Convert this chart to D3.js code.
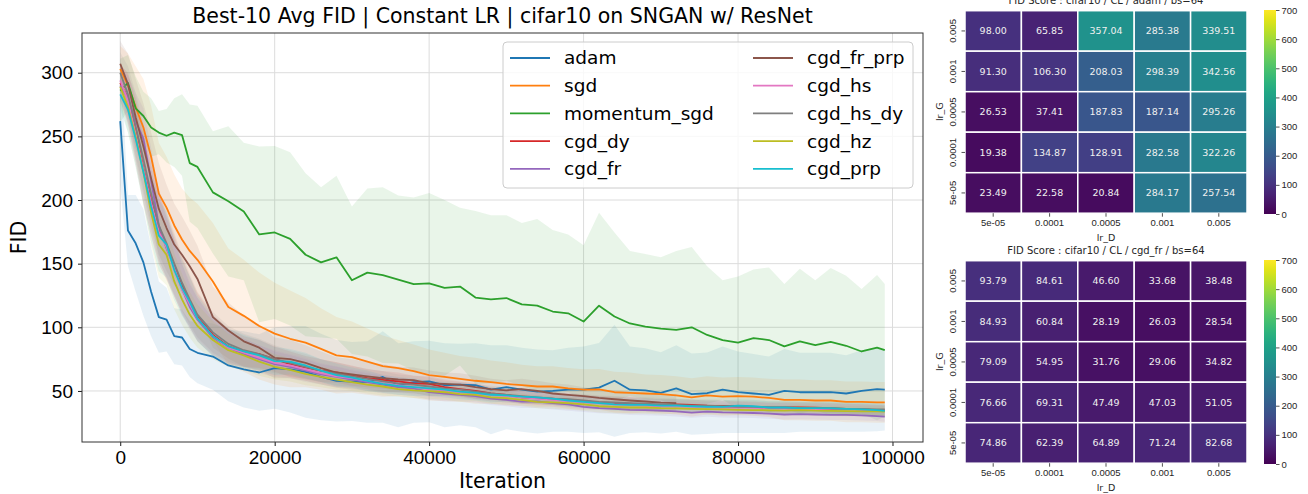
<!DOCTYPE html>
<html>
<head>
<meta charset="utf-8">
<script src="https://cdn.jsdelivr.net/npm/d3@7"></script>
<style>
  body { margin: 0; background: #fff; }
  svg { font-family: "DejaVu Sans", sans-serif; }
</style>
</head>
<body>
<svg id="chart" width="1308" height="494"></svg>
<script>
// ---- data ----
const iterations = [0, 1000, 2000, 3000, 4000, 5000, 6000, 7000, 8000, 9000, 10000,
  12000, 14000, 16000, 18000, 20000, 22000, 24000, 26000, 28000, 30000,
  32000, 34000, 36000, 38000, 40000, 42000, 44000, 46000, 48000, 50000,
  52000, 54000, 56000, 58000, 60000, 62000, 64000, 66000, 68000, 70000,
  72000, 74000, 76000, 78000, 80000, 82000, 84000, 86000, 88000, 90000,
  92000, 94000, 96000, 98000, 99000];

const adamMean = [262, 176, 166, 151, 128, 108, 106, 93, 92, 83, 80,
  77, 70, 67, 64.5, 68, 67, 65, 61, 58, 57.4,
  57, 61, 54.5, 57, 57.5, 54.5, 55, 54.5, 51, 53,
  51, 49.5, 50, 51, 51, 52.6, 58, 51, 50.5, 48.5,
  52, 47.5, 48.2, 51, 49, 48, 47, 50, 49, 49,
  49, 48, 50, 51.4, 51];
const adamStd = [50, 28, 38, 42, 35, 28, 25, 22, 22, 22, 24,
  26, 28, 30, 30, 32, 34, 36, 34, 32, 31,
  32, 36, 33, 32, 32, 33, 32, 33, 35, 33,
  33, 33, 32, 33, 34, 35, 44, 34, 33, 32,
  34, 32, 32, 34, 32, 31, 30, 33, 31, 31,
  31, 30, 32, 33, 32];

const sgdMean = [303, 290, 273, 257, 234, 205, 194, 180, 169, 160, 153,
  136, 116, 109, 101, 95, 91, 88, 83, 78, 76.5,
  73, 69.5, 68, 65.5, 62.5, 61, 59.5, 58, 57, 55.5,
  54.5, 53.5, 53.5, 52, 51, 51.3, 49, 48.5, 48, 47.5,
  46.5, 45, 46.5, 45.5, 46, 45.5, 44.5, 43, 43, 42.5,
  42.5, 41.5, 41.5, 41, 41];
const sgdStd = [18, 25, 32, 38, 40, 40, 40, 40, 40, 42, 44,
  46, 46, 44, 42, 40, 38, 35, 32, 30, 28,
  26, 24, 22, 21, 20, 19, 18, 18, 17, 17,
  16, 16, 16, 16, 16, 16, 16, 16, 15, 15,
  15, 15, 15, 15, 15, 15, 15, 16, 16, 16,
  16, 16, 16, 16, 16];

const momentumMean = [286, 292, 272, 266, 257, 253, 250.5, 253, 251, 229, 226,
  206, 199, 191, 173, 174.5, 169.5, 157, 151, 155, 137,
  143, 141, 137.5, 134, 134.5, 131, 132, 123.4, 122, 123,
  118, 117, 112.4, 111, 104.5, 117, 108.5, 103, 100.6, 99,
  98, 100, 94, 90, 88, 91.5, 90, 85, 89, 86,
  88.5, 85.5, 81, 84, 82];
const momentumStd = [25, 22, 25, 19, 23, 17, 21, 27, 32, 46, 48,
  48, 59, 54, 69, 68, 68, 64, 59, 64, 58,
  66, 69, 66, 68, 71, 69, 62, 68, 66, 65,
  64, 68, 64, 62, 60, 73, 66, 57, 57, 56,
  62, 63, 54, 47, 52, 54, 57, 49, 57, 51,
  58, 55, 49, 57, 52];

const cgdDyMean = [292, 280, 255, 225, 200, 178, 163, 148, 133, 120, 108,
  94, 85, 81, 79, 75, 71, 68.5, 66, 64.5, 62,
  60, 58.7, 57.5, 56, 55.5, 53, 51.5, 50, 48, 46.9,
  45, 44.3, 44, 43, 42, 41, 40.5, 40, 39, 38.5,
  39.5, 39, 38.5, 38.3, 38, 37.5, 37, 37, 37, 36.8,
  36.5, 36, 35.5, 35, 34.6];
const cgdDyStd = [14, 20, 25, 28, 28, 28, 26, 24, 22, 20, 19,
  16, 14, 12, 11, 10, 10, 9, 9, 8, 8,
  7, 7, 7, 6, 6, 6, 6, 6, 5, 5,
  5, 5, 5, 5, 5, 5, 5, 5, 5, 5,
  4, 4, 4, 4, 4, 4, 4, 4, 4, 4,
  4, 4, 4, 4, 4];

const cgdFrMean = [290, 280, 262, 248, 215, 180, 162, 147, 130, 116, 106,
  92, 84, 79, 75, 71, 69, 66, 63, 61, 59,
  57, 55, 53, 52, 49, 48, 47, 46, 44, 43,
  41.7, 41.7, 40.5, 39.5, 37.5, 36.5, 36, 35.2, 35, 34.6,
  34, 33, 33.8, 33.2, 33, 32.7, 32.2, 31.5, 31.8, 31.5,
  31.2, 31.2, 30.8, 30.3, 29.9];
const cgdFrStd = [12, 18, 22, 24, 26, 26, 24, 22, 20, 18, 17,
  15, 13, 12, 11, 10, 9, 9, 8, 8, 7,
  7, 7, 6, 6, 6, 6, 5, 5, 5, 5,
  5, 5, 5, 5, 4, 4, 4, 4, 4, 4,
  4, 4, 4, 4, 4, 4, 4, 4, 4, 4,
  4, 4, 4, 4, 4];

const cgdFrPrpMean = [307, 291, 265, 242, 217, 193, 178, 165, 157, 148, 138,
  108, 97.5, 89, 84, 76, 75, 72, 68, 64.5, 63,
  61.5, 60, 59, 58.5, 56, 55.5, 55, 53, 51.5, 50.5,
  51.5, 50, 48, 47, 46, 44.5, 43.5, 42.5, 41.7, 40.8,
  40.5, null, null, null, null, null, null, null, null, null,
  null, null, null, null, null];
const cgdFrPrpStd = [18, 24, 30, 34, 36, 36, 34, 32, 30, 28, 26,
  24, 22, 20, 18, 16, 15, 14, 13, 12, 12,
  11, 11, 10, 10, 10, 9, 9, 9, 8, 8,
  8, 8, 8, 8, 7, 7, 7, 7, 7, 7,
  7, null, null, null, null, null, null, null, null, null,
  null, null, null, null, null];

const cgdHsMean = [294, 278, 252, 224, 198, 175, 163, 146, 130, 118, 107,
  93, 84, 80, 76, 72, 70, 67, 64, 61.5, 60,
  58, 56, 54.5, 53, 51.5, 50.5, 49, 48, 47, 46,
  45, 44, 43, 42, 41, 40.5, 39.5, 39, 38.5, 38,
  38, 37.5, 37, 37, 37.2, 36.8, 36.5, 36.2, 36, 36,
  35.7, 35.5, 35.3, 35, 35];
const cgdHsStd = [14, 20, 24, 26, 26, 26, 24, 22, 20, 18, 16,
  14, 12, 11, 10, 10, 9, 9, 8, 8, 7,
  7, 7, 6, 6, 6, 6, 5, 5, 5, 5,
  5, 5, 5, 5, 5, 5, 4, 4, 4, 4,
  4, 4, 4, 4, 4, 4, 4, 4, 4, 4,
  4, 4, 4, 4, 4];

const cgdHsDyMean = [300, 283, 258, 232, 205, 180, 166, 150, 135, 122, 110,
  96, 87, 82, 79, 75, 72, 69, 66, 63.5, 61.5,
  59.5, 57.5, 56, 55, 53.5, 52, 51, 49.5, 48, 47,
  46, 45, 44, 43.5, 42.5, 41.5, 41, 40.5, 40, 39.5,
  39, 38.5, 38.5, 38, 37.5, 37.5, 37, 37, 36.7, 36.5,
  36.2, 36, 36, 35.5, 35.5];
const cgdHsDyStd = [16, 22, 26, 28, 28, 28, 26, 24, 22, 20, 18,
  16, 14, 13, 12, 11, 10, 10, 9, 9, 8,
  8, 8, 7, 7, 7, 6, 6, 6, 6, 6,
  6, 5, 5, 5, 5, 5, 5, 5, 5, 5,
  5, 5, 5, 5, 5, 5, 5, 5, 5, 5,
  5, 5, 5, 5, 5];

const cgdHzMean = [289, 273, 250, 222, 190, 165, 157, 136, 122, 110, 101,
  90, 82, 78, 73, 69, 66.5, 63.5, 61, 59, 57,
  55, 53.5, 51.5, 50.5, 49.8, 49, 47.5, 47, 45, 44.3,
  43, 41.5, 41, 40.5, 39.5, 38, 37.5, 37, 37, 36.5,
  36.3, 36, 35.7, 35.5, 35.2, 35, 34.8, 34.6, 35, 34.5,
  34.3, 34.2, 34, 34, 33.8];
const cgdHzStd = [14, 20, 24, 26, 26, 26, 24, 22, 20, 18, 17,
  15, 13, 12, 11, 10, 9, 9, 8, 8, 7,
  7, 7, 6, 6, 6, 6, 6, 5, 5, 5,
  5, 5, 5, 5, 5, 5, 5, 5, 5, 5,
  4, 4, 4, 4, 4, 4, 4, 4, 4, 4,
  4, 4, 4, 4, 4];

const cgdPrpMean = [283, 271, 248, 222, 195, 172, 165, 145, 131, 120, 107,
  93, 85, 81, 78, 73.5, 73, 70, 66, 62.5, 60.5,
  58, 55.5, 54, 53, 52, 51, 49.5, 48.5, 47, 46.5,
  45.5, 45, 44, 42.5, 41.5, 40.5, 39.5, 39, 39, 38.5,
  38.5, 38, 37.5, 37.5, 38.5, 38, 37, 37, 36.5, 36.5,
  36.5, 36, 35.5, 35, 34.3];
const cgdPrpStd = [12, 18, 22, 26, 28, 28, 26, 24, 22, 20, 18,
  16, 14, 13, 12, 11, 10, 10, 9, 9, 8,
  8, 7, 7, 7, 6, 6, 6, 6, 6, 5,
  5, 5, 5, 5, 5, 5, 5, 5, 5, 5,
  5, 5, 5, 5, 5, 5, 5, 5, 5, 5,
  5, 5, 5, 5, 5];

const methodNames = ["adam", "sgd", "momentum_sgd", "cgd_dy", "cgd_fr",
  "cgd_fr_prp", "cgd_hs", "cgd_hs_dy", "cgd_hz", "cgd_prp"];
const xTicks = [0, 20000, 40000, 60000, 80000, 100000];
const yTicks = [50, 100, 150, 200, 250, 300];

// heatmaps
const lrDLabels = ["5e-05", "0.0001", "0.0005", "0.001", "0.005"];
const lrGLabels = ["0.005", "0.001", "0.0005", "0.0001", "5e-05"];
const adamFid = [
  [98.00, 65.85, 357.04, 285.38, 339.51],
  [91.30, 106.30, 208.03, 298.39, 342.56],
  [26.53, 37.41, 187.83, 187.14, 295.26],
  [19.38, 134.87, 128.91, 282.58, 322.26],
  [23.49, 22.58, 20.84, 284.17, 257.54]];
const cgdFrFid = [
  [93.79, 84.61, 46.60, 33.68, 38.48],
  [84.93, 60.84, 28.19, 26.03, 28.54],
  [79.09, 54.95, 31.76, 29.06, 34.82],
  [76.66, 69.31, 47.49, 47.03, 51.05],
  [74.86, 62.39, 64.89, 71.24, 82.68]];
const cbarTicks = [0, 100, 200, 300, 400, 500, 600, 700];

// ---- main line chart ----
const tab10 = d3.schemeCategory10;
const series = [
  [adamMean, adamStd], [sgdMean, sgdStd], [momentumMean, momentumStd],
  [cgdDyMean, cgdDyStd], [cgdFrMean, cgdFrStd], [cgdFrPrpMean, cgdFrPrpStd],
  [cgdHsMean, cgdHsStd], [cgdHsDyMean, cgdHsDyStd], [cgdHzMean, cgdHzStd],
  [cgdPrpMean, cgdPrpStd]
].map(([m, s], i) => ({
  name: methodNames[i],
  color: tab10[i],
  pts: iterations.map((it, j) => ({it: it, m: m[j], s: s[j]}))
}));

const svg = d3.select("#chart");
const box = {left: 82, right: 923, top: 33, bottom: 442};

const x = d3.scaleLinear().domain([-4950, 103950]).range([box.left, box.right]);
const y = d3.scaleLinear().domain([9.9, 331.2]).range([box.bottom, box.top]);

svg.append("defs").append("clipPath").attr("id", "plotclip")
  .append("rect")
  .attr("x", box.left).attr("y", box.top)
  .attr("width", box.right - box.left).attr("height", box.bottom - box.top);

// grid
const grid = svg.append("g");
grid.selectAll(".gx").data(xTicks).enter().append("line")
  .attr("x1", d => x(d)).attr("x2", d => x(d))
  .attr("y1", box.top).attr("y2", box.bottom)
  .attr("stroke", "#dcdcdc").attr("stroke-width", 1);
grid.selectAll(".gy").data(yTicks).enter().append("line")
  .attr("x1", box.left).attr("x2", box.right)
  .attr("y1", d => y(d)).attr("y2", d => y(d))
  .attr("stroke", "#dcdcdc").attr("stroke-width", 1);

const plot = svg.append("g").attr("clip-path", "url(#plotclip)");

const area = d3.area()
  .defined(d => d.m != null)
  .x(d => x(d.it))
  .y0(d => y(d.m - d.s))
  .y1(d => y(d.m + d.s));
const line = d3.line()
  .defined(d => d.m != null)
  .x(d => x(d.it))
  .y(d => y(d.m));

series.forEach(s => {
  plot.append("path").datum(s.pts)
    .attr("d", area)
    .attr("fill", s.color)
    .attr("fill-opacity", 0.1);
});
series.forEach(s => {
  plot.append("path").datum(s.pts)
    .attr("d", line)
    .attr("fill", "none")
    .attr("stroke", s.color)
    .attr("stroke-width", 1.8)
    .attr("stroke-linejoin", "round");
});

// axes
const xAxis = svg.append("g")
  .attr("transform", "translate(0," + box.bottom + ")")
  .call(d3.axisBottom(x).tickValues(xTicks).tickFormat(d3.format("d")).tickSize(4).tickPadding(5));
const yAxis = svg.append("g")
  .attr("transform", "translate(" + box.left + ",0)")
  .call(d3.axisLeft(y).tickValues(yTicks).tickSize(4).tickPadding(5));
[xAxis, yAxis].forEach(a => {
  a.select(".domain").remove();
  a.selectAll("text").style("font-size", "19px").attr("fill", "#000");
  a.selectAll(".tick line").attr("stroke", "#000").attr("stroke-width", 0.9);
});

svg.append("rect")
  .attr("x", box.left).attr("y", box.top)
  .attr("width", box.right - box.left).attr("height", box.bottom - box.top)
  .attr("fill", "none").attr("stroke", "#333").attr("stroke-width", 1);

svg.append("text")
  .attr("x", (box.left + box.right) / 2).attr("y", 23)
  .attr("text-anchor", "middle")
  .style("font-size", "20.5px")
  .text("Best-10 Avg FID | Constant LR | cifar10 on SNGAN w/ ResNet");
svg.append("text")
  .attr("x", (box.left + box.right) / 2).attr("y", 488)
  .attr("text-anchor", "middle")
  .style("font-size", "20.5px")
  .text("Iteration");
svg.append("text")
  .attr("transform", "translate(26," + ((box.top + box.bottom) / 2) + ") rotate(-90)")
  .attr("text-anchor", "middle")
  .style("font-size", "20.5px")
  .text("FID");

// legend
const legend = svg.append("g");
legend.append("rect")
  .attr("x", 503).attr("y", 42).attr("width", 410).attr("height", 146)
  .attr("rx", 4)
  .attr("fill", "#fff").attr("fill-opacity", 0.8)
  .attr("stroke", "#cccccc").attr("stroke-width", 1);
series.forEach((s, i) => {
  const col = Math.floor(i / 5), row = i % 5;
  const lx = col === 0 ? 510 : 753;
  const ly = 58 + row * 27.7;
  legend.append("line")
    .attr("x1", lx).attr("x2", lx + 40)
    .attr("y1", ly).attr("y2", ly)
    .attr("stroke", s.color).attr("stroke-width", 1.8);
  legend.append("text")
    .attr("x", lx + 54).attr("y", ly)
    .attr("dy", "0.35em")
    .style("font-size", "18.5px")
    .text(s.name);
});

// ---- heatmaps ----
const viridis = d3.scaleSequential(d3.interpolateViridis).domain([0, 700]);

function heatmap(rows, title, top) {
  const g = svg.append("g");
  const hx = d3.scaleBand().domain(lrDLabels).range([965, 1247]);
  const hy = d3.scaleBand().domain(lrGLabels).range([top, top + 202.5]);

  const cells = [];
  rows.forEach((r, i) => r.forEach((v, j) => cells.push({g: lrGLabels[i], d: lrDLabels[j], v: v})));

  g.selectAll("rect.cell").data(cells).enter().append("rect")
    .attr("class", "cell")
    .attr("x", d => hx(d.d)).attr("y", d => hy(d.g))
    .attr("width", hx.bandwidth()).attr("height", hy.bandwidth())
    .attr("fill", d => viridis(d.v))
    .attr("stroke", "#fff").attr("stroke-width", 1.5);
  g.selectAll("text.val").data(cells).enter().append("text")
    .attr("class", "val")
    .attr("x", d => hx(d.d) + hx.bandwidth() / 2)
    .attr("y", d => hy(d.g) + hy.bandwidth() / 2)
    .attr("dy", "0.35em")
    .attr("text-anchor", "middle")
    .attr("fill", "#f0f0f0")
    .style("font-size", "9.5px")
    .text(d => d3.format(".2f")(d.v));

  const ax = g.append("g")
    .attr("transform", "translate(0," + (top + 202.5) + ")")
    .call(d3.axisBottom(hx).tickSize(3.5).tickPadding(3));
  const ay = g.append("g")
    .attr("transform", "translate(965,0)")
    .call(d3.axisLeft(hy).tickSize(3.5).tickPadding(3));
  ay.selectAll(".tick text")
    .attr("transform", "rotate(-90)")
    .attr("x", 0).attr("y", -9)
    .attr("dy", 0)
    .attr("text-anchor", "middle");
  [ax, ay].forEach(a => {
    a.select(".domain").remove();
    a.selectAll("text").style("font-size", "9.5px").attr("fill", "#262626");
    a.selectAll(".tick line").attr("stroke", "#262626").attr("stroke-width", 0.8);
  });

  g.append("text")
    .attr("x", 1106).attr("y", top + 230)
    .attr("text-anchor", "middle").attr("fill", "#262626")
    .style("font-size", "9.5px").text("lr_D");
  g.append("text")
    .attr("transform", "translate(943," + (top + 101) + ") rotate(-90)")
    .attr("text-anchor", "middle").attr("fill", "#262626")
    .style("font-size", "9.5px").text("lr_G");
  g.append("text")
    .attr("x", 1106).attr("y", top - 7)
    .attr("text-anchor", "middle").attr("fill", "#262626")
    .style("font-size", "10px").text(title);

  // colorbar
  const cy = d3.scaleLinear().domain([0, 700]).range([top + 203.3, top - 0.7]);
  const gradId = "grad" + Math.round(top);
  const grad = svg.select("defs").append("linearGradient")
    .attr("id", gradId).attr("x1", 0).attr("y1", 1).attr("x2", 0).attr("y2", 0);
  d3.range(0, 1.0001, 0.05).forEach(t => {
    grad.append("stop").attr("offset", t).attr("stop-color", d3.interpolateViridis(t));
  });
  g.append("rect")
    .attr("x", 1264).attr("y", cy(700))
    .attr("width", 12).attr("height", cy(0) - cy(700))
    .attr("fill", "url(#" + gradId + ")");
  const cax = g.append("g")
    .attr("transform", "translate(1276,0)")
    .call(d3.axisRight(cy).tickValues(cbarTicks).tickSize(3.5).tickPadding(2));
  cax.select(".domain").remove();
  cax.selectAll("text").style("font-size", "9.5px").attr("fill", "#262626");
  cax.selectAll(".tick line").attr("stroke", "#262626").attr("stroke-width", 0.8);
}

heatmap(adamFid, "FID Score : cifar10 / CL / adam / bs=64", 10.7);
heatmap(cgdFrFid, "FID Score : cifar10 / CL / cgd_fr / bs=64", 260.7);
</script>
</body>
</html>
